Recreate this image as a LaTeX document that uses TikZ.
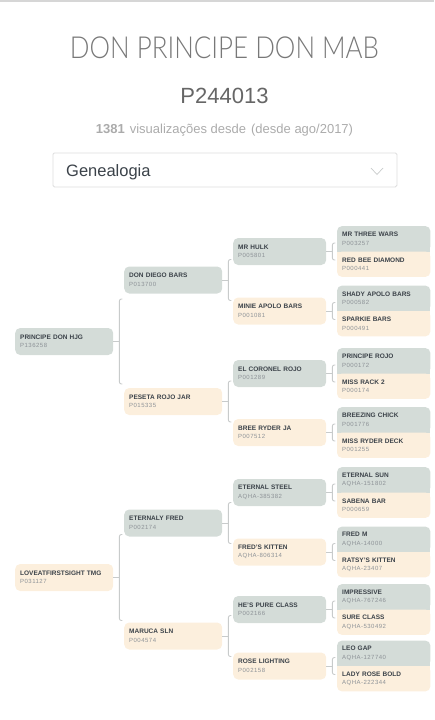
\documentclass[tikz,border=0pt]{standalone}
\usepackage{graphicx}
\usepackage{fontspec}
\setmainfont{Liberation Sans}
\IfFontExistsTF{Lato Light}{\newfontfamily\thinfont{Lato Light}}{\newfontfamily\thinfont{Liberation Sans}}
\newfontfamily\regfont{Liberation Sans}[LetterSpace=8]
\usetikzlibrary{backgrounds}
\definecolor{sirec}{HTML}{D4DCD8}
\definecolor{damc}{HTML}{FCEFDD}
\definecolor{namec}{HTML}{3B4249}
\definecolor{regc}{HTML}{8D9297}
\definecolor{linec}{HTML}{C8CBCB}
\definecolor{titlec}{HTML}{787878}
\definecolor{codec}{HTML}{666666}
\definecolor{statc}{HTML}{ABABAB}
\definecolor{boxc}{HTML}{DDDDDD}
\newcommand{\hreg}[1]{{\mdseries\regfont\color{regc}\fontsize{6}{8.5}\selectfont #1}}

\begin{document}
\begin{tikzpicture}[x=1pt,y=-1pt,
  horse/.style={anchor=west,minimum height=27pt,inner xsep=5pt,inner ysep=0pt,text width=#1,align=left,rounded corners=5pt,text=namec,font=\fontsize{6.5}{8.5}\selectfont\bfseries},
  cell/.style={minimum height=25pt,inner xsep=5pt,inner ysep=0pt,text width=83pt,align=left,text=namec,font=\fontsize{6.5}{8.5}\selectfont\bfseries},
  link/.style={draw=linec,line width=0.9pt}]
\useasboundingbox (0,0) rectangle (434,720);
\fill[black!16] (0,0) rectangle (434,1.5);
% header
\node[anchor=base,text=titlec,inner sep=0pt] (title) at (224.5,58) {\resizebox{309pt}{21.7pt}{\thinfont DON PRINCIPE DON MAB}};
\node[anchor=base,text=codec,inner sep=0pt,font=\fontsize{22}{22}\selectfont] (code) at (224.5,103) {P244013};
\node[anchor=base,text=statc,inner sep=0pt,font=\fontsize{13}{13}\selectfont] (stats) at (224.5,133) {\textbf{1381}\hspace{5pt}visualizações desde\hspace{5pt}(desde ago/2017)};
\node[draw=boxc,line width=0.8pt,rounded corners=1.5pt,anchor=north west,minimum width=344pt,minimum height=34pt] (menu) at (52.5,152.5) {};
\node[anchor=base west,inner sep=0pt,text=namec,font=\fontsize{16.5}{16.5}\selectfont] (menulabel) at (66,176) {Genealogia};
\draw[linec,line width=0.7pt] (371,168) -- (377,174.5) -- (383,168);
% first generation
\node[horse=88pt,fill=sirec] (a1) at (15,341.5) {PRINCIPE DON HJG\\\hreg{P136258}};
\node[horse=88pt,fill=damc] (a2) at (15,577.5) {LOVEATFIRSTSIGHT TMG\\\hreg{P031127}};
% second generation
\foreach \i/\y/\c/\nm/\rg in {1/280/sirec/DON DIEGO BARS/P013700,2/401.5/damc/PESETA ROJO JAR/P015335,3/523/sirec/ETERNALY FRED/P002174,4/636/damc/MARUCA SLN/P004574}
  \node[horse=88pt,fill=\c] (b\i) at (124,\y) {\nm\\\hreg{\rg}};
% third generation
\foreach \i/\y/\c/\nm/\rg in {1/251.5/sirec/MR HULK/P005801,2/311/damc/MINIE APOLO BARS/P001081,3/373.5/sirec/EL CORONEL ROJO/P001289,4/432.5/damc/BREE RYDER JA/P007512,5/492.5/sirec/ETERNAL STEEL/AQHA-385382,6/552/damc/FRED'S KITTEN/AQHA-806314,7/609.5/sirec/HE'S PURE CLASS/P002166,8/666/damc/ROSE LIGHTING/P002158}
  \node[horse=83pt,fill=\c] (c\i) at (233,\y) {\nm\\\hreg{\rg}};
% fourth generation, in pairs
\foreach \i/\j/\y/\na/\ra/\nb/\rb in {1/2/251.5/MR THREE WARS/P003257/RED BEE DIAMOND/P000441,3/4/311/SHADY APOLO BARS/P000582/SPARKIE BARS/P000491,5/6/373.5/PRINCIPE ROJO/P000172/MISS RACK 2/P000174,7/8/432.5/BREEZING CHICK/P001776/MISS RYDER DECK/P001255,9/10/492.5/ETERNAL SUN/AQHA-151802/SABENA BAR/P000659,11/12/552/FRED M/AQHA-14000/RATSY'S KITTEN/AQHA-23407,13/14/609.5/IMPRESSIVE/AQHA-767246/SURE CLASS/AQHA-530492,15/16/666/LEO GAP/AQHA-127740/LADY ROSE BOLD/AQHA-222344}{
  \node[cell,anchor=south west] (d\i) at (337,\y) {\na\\\hreg{\ra}};
  \node[cell,anchor=north west] (d\j) at (337,\y) {\nb\\\hreg{\rb}};
  \begin{scope}[on background layer]
    \fill[sirec,rounded corners=5pt] (d\i.south west) rectangle (d\i.north east);
    \fill[sirec] (d\i.south west) rectangle (d\i.east);
    \fill[damc,rounded corners=5pt] (d\j.south west) rectangle (d\j.north east);
    \fill[damc] (d\j.west) rectangle (d\j.north east);
  \end{scope}
}
% brackets
\foreach \p/\h in {a1/42.5,a2/43,b1/20.5,b2/20.5,b3/20.5,b4/20.5,c1/8.5,c2/8.5,c3/8.5,c4/8.5,c5/8.5,c6/8.5,c7/8.5,c8/8.5}{
  \draw[link] (\p.east) -- ++(6,0) coordinate (k);
  \draw[link,rounded corners=2pt] ([shift={(3,-\h)}]k) -- ++(-3,0) -- ++(0,2*\h) -- ++(3,0);
}
\end{tikzpicture}
\end{document}
